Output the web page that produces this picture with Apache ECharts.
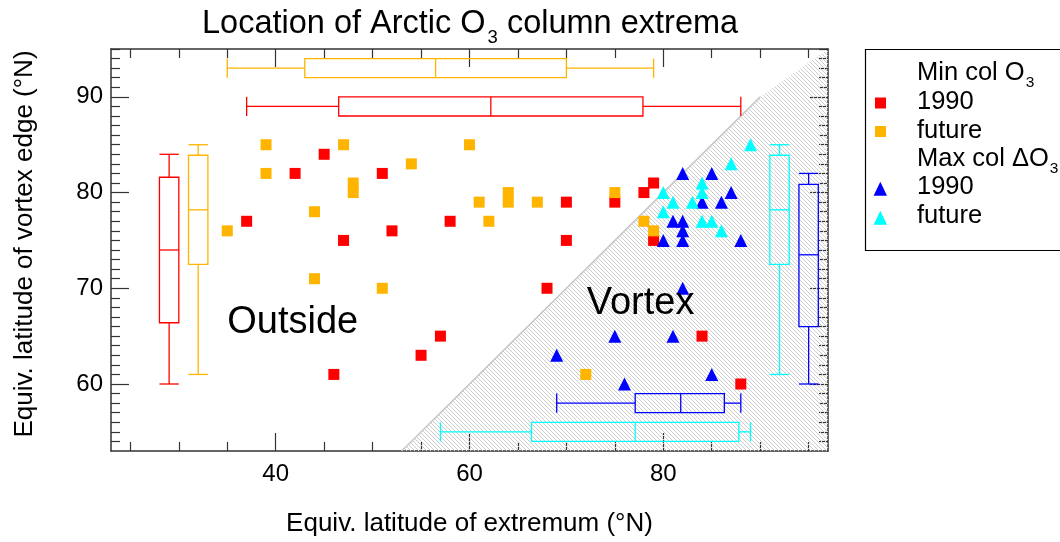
<!DOCTYPE html>
<html>
<head>
<meta charset="utf-8">
<script src="https://cdn.jsdelivr.net/npm/echarts@6/dist/echarts.min.js"></script>
<style>html,body{margin:0;padding:0;background:#fff}#c{width:1060px;height:542px}</style>
</head>
<body>
<div id="c"></div>
<script>
// ---------- data ----------
const red1990 = [[37,77],[42,82],[45,84],[47,75],[51,82],[52,76],[58,77],[70,79],[70,75],[75,79],[78,80],[79,81],[79,75],[68,70],[57,65],[55,63],[46,61],[84,65],[88,60]];
const orangeFuture = [[35,76],[39,85],[39,82],[44,78],[44,71],[47,85],[48,81],[48,80],[51,70],[54,83],[60,85],[61,79],[62,77],[64,80],[64,79],[67,79],[75,80],[78,77],[79,76],[72,61]];
const blue1990 = [[82,82],[85,82],[87,80],[84,79],[86,79],[81,77],[82,77],[82,76],[80,75],[82,75],[88,75],[82,70],[75,65],[81,65],[69,63],[85,61],[76,60]];
const cyanFuture = [[89,85],[87,83],[84,81],[80,80],[84,80],[81,79],[83,79],[80,78],[84,77],[85,77],[86,76]];

// box plots: [whisker low, q1, median, q3, whisker high]
const boxMinX1990   = [37, 46.5, 62.2, 77.9, 88];
const boxMinXFuture = [35, 43, 56.5, 70, 79];
const boxMinY1990   = [60, 66.4, 74, 81.6, 84];
const boxMinYFuture = [61, 72.5, 78.2, 83.9, 85];
const boxMaxY1990   = [60, 66, 73.5, 80.85, 82];
const boxMaxYFuture = [61, 72.5, 78.2, 83.9, 85];
const boxMaxX1990   = [69, 77.1, 81.8, 86.3, 88];
const boxMaxXFuture = [57, 66.4, 77.1, 87.8, 89];

const vortexEdgeLine = [[53,53],[90,90]];
const vortexRegion = [[53,53],[90,90],[97,95],[97,53]];

const regionNames = ['Outside', 'Vortex'];
const regionNamePos = [[35, 66.4], [72.1, 68.4]];

const xMajorTicks = [40, 60, 80];
const xMinorTicks = [25, 30, 35, 45, 50, 55, 65, 70, 75, 85, 90, 95];
const yMajorTicks = [60, 70, 80, 90];
const yMinorTicks = [54,55,56,57,58,59,61,62,63,64,65,66,67,68,69,71,72,73,74,75,76,77,78,79,81,82,83,84,85,86,87,88,89,91,92,93,94,95];

// ---------- styles ----------
const FONT = 'Liberation Sans, Arial, Helvetica, sans-serif';
const C_RED = '#ff0000', C_ORANGE = '#ffb400', C_BLUE = '#0000ff', C_CYAN = '#00ffff';
const AX = '#333333';

const hatch = document.createElement('canvas');
hatch.width = 4; hatch.height = 4;
const hc = hatch.getContext('2d');
hc.fillStyle = '#cdcdcd';
for (let i = 0; i < 4; i++) hc.fillRect(i, i, 1, 1);

function xAxisDef(pos, ticks, len, showLine, showLabel) {
  return {
    type: 'value', min: 23, max: 97, position: pos,
    splitLine: {show: false},
    axisLine: {show: showLine, onZero: false, lineStyle: {color: AX, width: 1.5}},
    axisTick: {show: true, inside: true, length: len, customValues: ticks, lineStyle: {color: AX, width: 1.2}},
    axisLabel: showLabel ? {show: true, customValues: ticks, fontSize: 24, color: '#000', margin: 11, fontFamily: FONT} : {show: false}
  };
}
function yAxisDef(pos, ticks, len, showLine, showLabel) {
  return {
    type: 'value', min: 53, max: 95, position: pos,
    splitLine: {show: false},
    axisLine: {show: showLine, onZero: false, lineStyle: {color: AX, width: 1.5}},
    axisTick: {show: true, inside: true, length: len, customValues: ticks, lineStyle: {color: AX, width: 1.2}},
    axisLabel: showLabel ? {show: true, customValues: ticks, fontSize: 24, color: '#000', margin: 8, fontFamily: FONT} : {show: false}
  };
}

const xAxes = [
  xAxisDef('bottom', xMajorTicks, 18, true, true),
  xAxisDef('bottom', xMinorTicks, 9, false, false),
  xAxisDef('top', xMajorTicks, 18, true, false),
  xAxisDef('top', xMinorTicks, 9, false, false)
];
Object.assign(xAxes[0], {name: 'Equiv. latitude of extremum (°N)', nameLocation: 'middle', nameGap: 60,
  nameTextStyle: {fontSize: 26, color: '#000', fontFamily: FONT}});
const yAxes = [
  yAxisDef('left', yMajorTicks, 18, true, true),
  yAxisDef('left', yMinorTicks, 9, false, false),
  yAxisDef('right', yMajorTicks, 18, true, false),
  yAxisDef('right', yMinorTicks, 9, false, false)
];
Object.assign(yAxes[0], {name: 'Equiv. latitude of vortex edge (°N)', nameLocation: 'middle', nameGap: 73,
  nameTextStyle: {fontSize: 26, color: '#000', fontFamily: FONT, padding: [0, 0, 0, 12]}});

// box plot renderer: orient 'h' => values along x at y=pos ; 'v' => values along y at x=pos
function boxSeries(values, orient, pos, color) {
  const half = 1;
  return {
    type: 'custom', xAxisIndex: 0, yAxisIndex: 0, z: 3, silent: true,
    data: [values],
    renderItem: function (params, api) {
      const v = [api.value(0), api.value(1), api.value(2), api.value(3), api.value(4)];
      const P = (a, b) => orient === 'h' ? api.coord([a, b]) : api.coord([b, a]);
      const lo = pos - half, hi = pos + half;
      const segs = [
        [v[0], pos, v[1], pos], [v[3], pos, v[4], pos],
        [v[0], lo, v[0], hi], [v[4], lo, v[4], hi],
        [v[2], lo, v[2], hi]
      ];
      const st = {stroke: color, lineWidth: 1.3, fill: null};
      const children = segs.map(s => {
        const p1 = P(s[0], s[1]), p2 = P(s[2], s[3]);
        return {type: 'line', shape: {x1: p1[0], y1: p1[1], x2: p2[0], y2: p2[1]}, style: st};
      });
      children.push({type: 'polygon', shape: {points: [P(v[1], lo), P(v[3], lo), P(v[3], hi), P(v[1], hi)]}, style: st});
      return {type: 'group', children: children};
    }
  };
}

const series = [
  {
    type: 'custom', z: 1, silent: true, clip: true,
    data: vortexRegion,
    renderItem: function (params, api) {
      if (params.dataIndex !== 0) return null;
      const pts = vortexRegion.map(p => api.coord(p));
      return {type: 'polygon', shape: {points: pts}, style: {fill: {image: hatch, repeat: 'repeat'}, stroke: null}};
    }
  },
  {
    type: 'line', z: 2, silent: true, data: vortexEdgeLine, symbol: 'none',
    lineStyle: {color: '#c8c8c8', width: 1.6}
  },
  boxSeries(boxMinXFuture, 'h', 93, C_ORANGE),
  boxSeries(boxMinX1990, 'h', 89, C_RED),
  boxSeries(boxMinY1990, 'v', 29, C_RED),
  boxSeries(boxMinYFuture, 'v', 32, C_ORANGE),
  boxSeries(boxMaxYFuture, 'v', 92, C_CYAN),
  boxSeries(boxMaxY1990, 'v', 95, C_BLUE),
  boxSeries(boxMaxX1990, 'h', 58, C_BLUE),
  boxSeries(boxMaxXFuture, 'h', 55, C_CYAN),
  {name: 'Min col O3 1990', type: 'scatter', z: 4, symbol: 'rect', symbolSize: 11, data: red1990, itemStyle: {color: C_RED, opacity: 1}},
  {name: 'Min col O3 future', type: 'scatter', z: 4, symbol: 'rect', symbolSize: 11, data: orangeFuture, itemStyle: {color: C_ORANGE, opacity: 1}},
  {name: 'Max col dO3 1990', type: 'scatter', z: 4, symbol: 'triangle', symbolSize: 13, data: blue1990, itemStyle: {color: C_BLUE, opacity: 1}},
  {name: 'Max col dO3 future', type: 'scatter', z: 4, symbol: 'triangle', symbolSize: 13, data: cyanFuture, itemStyle: {color: C_CYAN, opacity: 1}},
  {
    type: 'custom', z: 5, silent: true,
    data: regionNamePos.map((p, i) => [p[0], p[1], i]),
    renderItem: function (params, api) {
      const c = api.coord([api.value(0), api.value(1)]);
      return {type: 'text', x: c[0], y: c[1],
        style: {text: regionNames[api.value(2)], fontSize: 38, fontFamily: FONT, fill: '#000', align: 'left', verticalAlign: 'middle'}};
    }
  }
];

function legendText(y, text) {
  return {type: 'text', x: 917, y: y, z: 11,
    style: {text: text, fill: '#000', align: 'left', verticalAlign: 'middle', fontSize: 25.5, fontFamily: FONT,
      rich: {a: {fontSize: 25.5, fontFamily: FONT, fill: '#000', lineHeight: 25},
             s: {fontSize: 15.5, fontFamily: FONT, fill: '#000', lineHeight: 25, padding: [19, 0, 0, 1]}}}};
}

const option = {
  animation: false,
  textStyle: {fontFamily: FONT},
  title: {
    text: '{a|Location of Arctic O}{s|3}{a| column extrema}',
    left: 202, top: 8, padding: 0,
    textStyle: {fontWeight: 'normal', fontSize: 32.5, color: '#000', fontFamily: FONT,
      rich: {a: {fontSize: 32.5, fontWeight: 'normal', color: '#000', fontFamily: FONT, lineHeight: 32},
             s: {fontSize: 18.5, fontWeight: 'normal', color: '#000', fontFamily: FONT, lineHeight: 32, padding: [27, 0, 0, 2]}}}
  },
  grid: {left: 111, right: 232, top: 49, bottom: 86, containLabel: false},
  xAxis: xAxes,
  yAxis: yAxes,
  series: series,
  graphic: [
    {type: 'rect', z: 10, shape: {x: 865.5, y: 49.5, width: 260, height: 201}, style: {fill: '#fff', stroke: '#000', lineWidth: 1.2}},
    legendText(73.3, '{a|Min col O}{s|3}'),
    legendText(102, '1990'),
    legendText(130.5, 'future'),
    legendText(158.8, '{a|Max col ΔO}{s|3}'),
    legendText(187, '1990'),
    legendText(215.5, 'future'),
    {type: 'rect', z: 11, shape: {x: 875, y: 97.5, width: 11, height: 11}, style: {fill: C_RED}},
    {type: 'rect', z: 11, shape: {x: 875, y: 126, width: 11, height: 11}, style: {fill: C_ORANGE}},
    {type: 'polygon', z: 11, shape: {points: [[880.3, 181.8], [887, 195.8], [873.6, 195.8]]}, style: {fill: C_BLUE}},
    {type: 'polygon', z: 11, shape: {points: [[880.3, 210.8], [887, 224.8], [873.6, 224.8]]}, style: {fill: C_CYAN}}
  ]
};

const chart = echarts.init(document.getElementById('c'), null, {renderer: 'canvas'});
chart.setOption(option);
</script>
</body>
</html>
